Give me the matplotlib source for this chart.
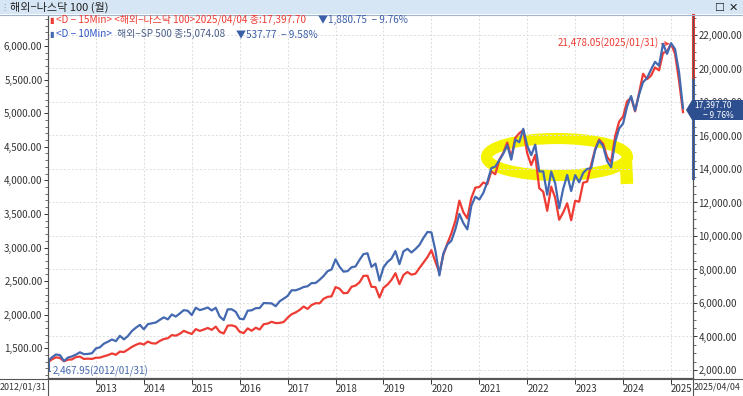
import matplotlib
matplotlib.use("Agg")
import matplotlib.pyplot as plt
from matplotlib.patches import Ellipse, Polygon, Rectangle
from matplotlib.ticker import MultipleLocator, FuncFormatter

plt.rcParams['font.family'] = ['Noto Sans CJK KR', 'DejaVu Sans']

# monthly closes, 2012/01 .. 2025/03, last point = 2025/04/04
sp500 = [
    1312.41, 1365.68, 1408.47, 1397.91, 1310.33, 1362.16, 1379.32, 1406.58, 1440.67, 1412.16, 1416.18, 1426.19,
    1498.11, 1514.68, 1569.19, 1597.57, 1630.74, 1606.28, 1685.73, 1632.97, 1681.55, 1756.54, 1805.81, 1848.36,
    1782.59, 1859.45, 1872.34, 1883.95, 1923.57, 1960.23, 1930.67, 2003.37, 1972.29, 2018.05, 2067.56, 2058.90,
    1994.99, 2104.50, 2067.89, 2085.51, 2107.39, 2063.11, 2103.84, 1972.18, 1920.03, 2079.36, 2080.41, 2043.94,
    1940.24, 1932.23, 2059.74, 2065.30, 2096.95, 2098.86, 2173.60, 2170.95, 2168.27, 2126.15, 2198.81, 2238.83,
    2278.87, 2363.64, 2362.72, 2384.20, 2411.80, 2423.41, 2470.30, 2471.65, 2519.36, 2575.26, 2647.58, 2673.61,
    2823.81, 2713.83, 2640.87, 2648.05, 2705.27, 2718.37, 2816.29, 2901.52, 2913.98, 2711.74, 2760.17, 2506.85,
    2704.10, 2784.49, 2834.40, 2945.83, 2752.06, 2941.76, 2980.38, 2926.46, 2976.74, 3037.56, 3140.98, 3230.78,
    3225.52, 2954.22, 2584.59, 2912.43, 3044.31, 3100.29, 3271.12, 3500.31, 3363.00, 3269.96, 3621.63, 3756.07,
    3714.24, 3811.15, 3972.89, 4181.17, 4204.11, 4297.50, 4395.26, 4522.68, 4307.54, 4605.38, 4567.00, 4766.18,
    4515.55, 4373.94, 4530.41, 4131.93, 4132.15, 3785.38, 4130.29, 3955.00, 3585.62, 3871.98, 4080.11, 3839.50,
    4076.60, 3970.15, 4109.31, 4169.48, 4179.83, 4450.38, 4588.96, 4507.66, 4288.05, 4193.80, 4567.80, 4769.83,
    4845.65, 5096.27, 5254.35, 5035.69, 5277.51, 5460.48, 5522.30, 5648.40, 5762.48, 5705.45, 6032.38, 5881.63,
    6040.53, 5954.50, 5611.85, 5074.08,
]
ndx100 = [
    2467.95, 2636.9, 2755.3, 2718.0, 2523.0, 2615.7, 2632.0, 2772.4, 2799.2, 2660.0, 2677.2, 2660.9,
    2731.5, 2738.6, 2818.7, 2887.4, 2987.0, 2909.6, 3096.9, 3073.8, 3218.2, 3378.6, 3500.4, 3592.0,
    3521.6, 3696.2, 3595.7, 3580.0, 3736.1, 3849.4, 3895.5, 4082.6, 4049.5, 4158.4, 4337.4, 4236.3,
    4151.8, 4441.0, 4333.7, 4414.5, 4508.3, 4396.8, 4588.9, 4274.6, 4181.1, 4648.8, 4664.7, 4593.3,
    4279.2, 4201.8, 4483.7, 4341.3, 4523.9, 4417.7, 4730.2, 4771.1, 4875.7, 4801.3, 4810.1, 4863.6,
    5122.0, 5330.0, 5436.0, 5584.0, 5788.0, 5646.0, 5880.0, 5988.0, 5979.0, 6248.0, 6367.0, 6397.0,
    6950.0, 6855.0, 6581.0, 6605.0, 6967.0, 7040.0, 7233.0, 7620.0, 7627.0, 6967.0, 6950.0, 6330.0,
    6907.0, 7097.0, 7378.0, 7781.0, 7127.0, 7672.0, 7848.0, 7692.0, 7749.0, 8084.0, 8403.0, 8733.0,
    9150.0, 8462.0, 7813.0, 8890.0, 9555.0, 10157.0, 10905.0, 12110.0, 11418.0, 11052.0, 12268.0, 12888.0,
    12925.0, 13192.0, 13091.0, 13860.0, 13687.0, 14554.0, 14959.0, 15582.0, 14690.0, 15850.0, 16135.0, 16320.0,
    14930.0, 14237.0, 14838.0, 12855.0, 12643.0, 11504.0, 12947.0, 12272.0, 10971.0, 11406.0, 11952.0, 10940.0,
    12102.0, 12042.0, 13182.0, 13246.0, 14254.0, 15179.0, 15758.0, 15501.0, 14715.0, 14410.0, 15947.0, 16826.0,
    17137.0, 18044.0, 18255.0, 17441.0, 18537.0, 19683.0, 19363.0, 19575.0, 20061.0, 19891.0, 20930.0, 21012.0,
    21478.05, 20885.0, 19279.0, 17397.70,
]
year_labels = [str(y) for y in range(2013, 2026)]
year_pos = [12 * (i + 1) for i in range(len(year_labels))]

RED = "#ee3b33"
BLUE = "#4469b0"
W, H = 743, 396
FS = 7


def fx(px):
    return px / W


def fy(py):
    return 1 - py / H


fig = plt.figure(figsize=(W / 100, H / 100), dpi=100)
fig.patch.set_facecolor("white")

# title bar
fig.patches.append(Rectangle((0, fy(14)), 1, 14 / H, transform=fig.transFigure,
                             facecolor="#d6e6f4", edgecolor="none", zorder=0))
fig.lines.append(plt.Line2D([0, 1], [fy(14.5), fy(14.5)], transform=fig.transFigure,
                            color="#9fb4cc", lw=0.8))
fig.text(fx(0), fy(7.5), "⋮", fontsize=6, color="#8899aa", va="center", family=['DejaVu Sans'])
fig.text(fx(10), fy(7.5), "해외−나스닥 100 (월)", fontsize=8, color="#222222", va="center")
fig.text(fx(714), fy(7.5), "☐", fontsize=8, color="#222222", va="center", family=['DejaVu Sans'])
fig.text(fx(729), fy(7.5), "✕", fontsize=8, color="#222222", va="center", family=['DejaVu Sans'])

ax = fig.add_axes([fx(48), fy(378), (693 - 48) / W, (378 - 15) / H])
ax2 = ax.twinx()
ax.set_zorder(ax2.get_zorder() + 1)
ax.patch.set_visible(False)
ax2.patch.set_visible(True)
ax2.patch.set_facecolor("white")

px_month = (683 - 48) / 159.0
ax.set_xlim(0, (693 - 48) / px_month)
ax.set_ylim(1058, 6460)
ax2.set_ylim(1522, 23194)

months = list(range(len(sp500)))

# grid (follows right axis)
ax2.set_yticks(range(2000, 22001, 2000))
ax2.yaxis.set_minor_locator(MultipleLocator(500))
ax2.grid(axis="y", color="#dcdcdc", linestyle=(0, (2, 2)), lw=0.7, zorder=0)
for p in year_pos:
    ax2.axvline(p, color="#dcdcdc", linestyle=(0, (2, 2)), lw=0.7, zorder=0)


def to2(px, py):
    return (px - 48) / px_month, 2000 + (370 - py) * 2000 / 33.5


# yellow highlight
cx, cy = to2(557, 157)
ell = Ellipse((cx, cy), 141 / px_month, 37 * 2000 / 33.5, facecolor="none",
              edgecolor="#f4f400", lw=8, zorder=1)
ax2.add_patch(ell)
tx0, ty0 = to2(626, 163)
tx1, ty1 = to2(627, 184)
ax2.plot([tx0, tx1], [ty0, ty1], color="#f4f400", lw=9, solid_capstyle="butt", zorder=1)

ax2.plot(months, ndx100, color=RED, lw=1.6, zorder=2)
ax.plot(months, sp500, color=BLUE, lw=1.6, zorder=2)

# axes styling
for a in (ax, ax2):
    a.spines["top"].set_visible(False)
    for s in ("left", "right", "bottom"):
        a.spines[s].set_color("#555555")

ax.set_yticks(range(1500, 6001, 500))
ax.yaxis.set_minor_locator(MultipleLocator(100))
fmt = FuncFormatter(lambda v, p: f"{v:,.2f}")
ax.yaxis.set_major_formatter(fmt)
ax2.yaxis.set_major_formatter(fmt)
for a in (ax, ax2):
    a.tick_params(axis="y", which="major", direction="out", length=3, width=0.7,
                  labelsize=FS, pad=1, colors="#333333")
    a.tick_params(axis="y", which="minor", direction="out", length=2, width=0.6, colors="#555555")

ax.set_xticks(year_pos)
ax.set_xticklabels(year_labels, ha="left")
ax.tick_params(axis="x", direction="out", length=4, width=0.7, labelsize=FS, pad=0, colors="#333333")

# bottom separator line across the figure and spines through label area
fig.lines.append(plt.Line2D([0, 1], [fy(378.5), fy(378.5)], transform=fig.transFigure,
                            color="#555555", lw=0.8))
fig.lines.append(plt.Line2D([fx(48), fx(48)], [0, fy(378)], transform=fig.transFigure,
                            color="#555555", lw=0.8))
fig.lines.append(plt.Line2D([fx(693), fx(693)], [0, fy(378)], transform=fig.transFigure,
                            color="#555555", lw=0.8))
fig.text(fx(47), fy(387), "2012/01/31", fontsize=6.4, color="#333333", ha="right", va="center")
fig.text(fx(694), fy(387), "2025/04/04", fontsize=6.4, color="#333333", ha="left", va="center")

# range marks on the right spine
xr = ax.get_xlim()[1]
ax2.axvline(xr, ymin=(378 - 80) / 363, ymax=1, color=RED, lw=2.2, zorder=5, clip_on=False)
ax2.axvline(xr, ymin=(378 - 178) / 363, ymax=(378 - 80) / 363, color=BLUE, lw=2.2,
            zorder=5, clip_on=False)

# current value box
box = Polygon([(fx(686), fy(110)), (fx(692), fy(100)), (fx(743), fy(100)), (fx(743), fy(120)),
               (fx(692), fy(120))], closed=True, transform=fig.transFigure,
              facecolor="#2e4f8f", edgecolor="none", zorder=10)
fig.patches.append(box)
fig.text(fx(694), fy(104.5), "17,397.70", fontsize=6, color="white", va="center", zorder=11)
fig.text(fx(703), fy(115), "− 9.76%", fontsize=6, color="white", va="center", zorder=11)

# legend lines
LFS = 7.2
fig.text(fx(49), fy(20), "▮", fontsize=6, color=RED, va="center", family=['DejaVu Sans'])
fig.text(fx(56), fy(20), "<D − 15Min> <해외−나스닥 100>2025/04/04 종:17,397.70",
         fontsize=LFS, color=RED, va="center")
fig.text(fx(318), fy(20), "▼1,880.75  − 9.76%", fontsize=LFS, color="#3a5ea8", va="center")
fig.text(fx(49), fy(34), "▮", fontsize=6, color=BLUE, va="center", family=['DejaVu Sans'])
fig.text(fx(56), fy(34), "<D − 10Min>", fontsize=LFS, color="#2f55c8", va="center")
fig.text(fx(117), fy(34), "해외−SP 500 종:5,074.08", fontsize=LFS, color="#4c5f8c", va="center")
fig.text(fx(236), fy(34), "▼537.77  − 9.58%", fontsize=LFS, color="#3a5ea8", va="center")

# annotations
ax2.annotate("21,478.05(2025/01/31)", xy=(156, 21478.05), xytext=(-9, 0),
             textcoords="offset points", ha="right", va="center", fontsize=FS, color=RED,
             arrowprops=dict(arrowstyle="->", color=RED, lw=0.8, shrinkA=0, shrinkB=1), zorder=6)
ax.annotate("2,467.95(2012/01/31)", xy=(0.3, 1312.41), xytext=(53, H - 371),
            textcoords="figure pixels", ha="left", va="center", fontsize=FS, color=BLUE,
            arrowprops=dict(arrowstyle="-", color=BLUE, lw=0.8, shrinkA=0, shrinkB=0,
                            connectionstyle="angle,angleA=0,angleB=90,rad=0"), zorder=6)

fig.savefig("out.png", dpi=100)
